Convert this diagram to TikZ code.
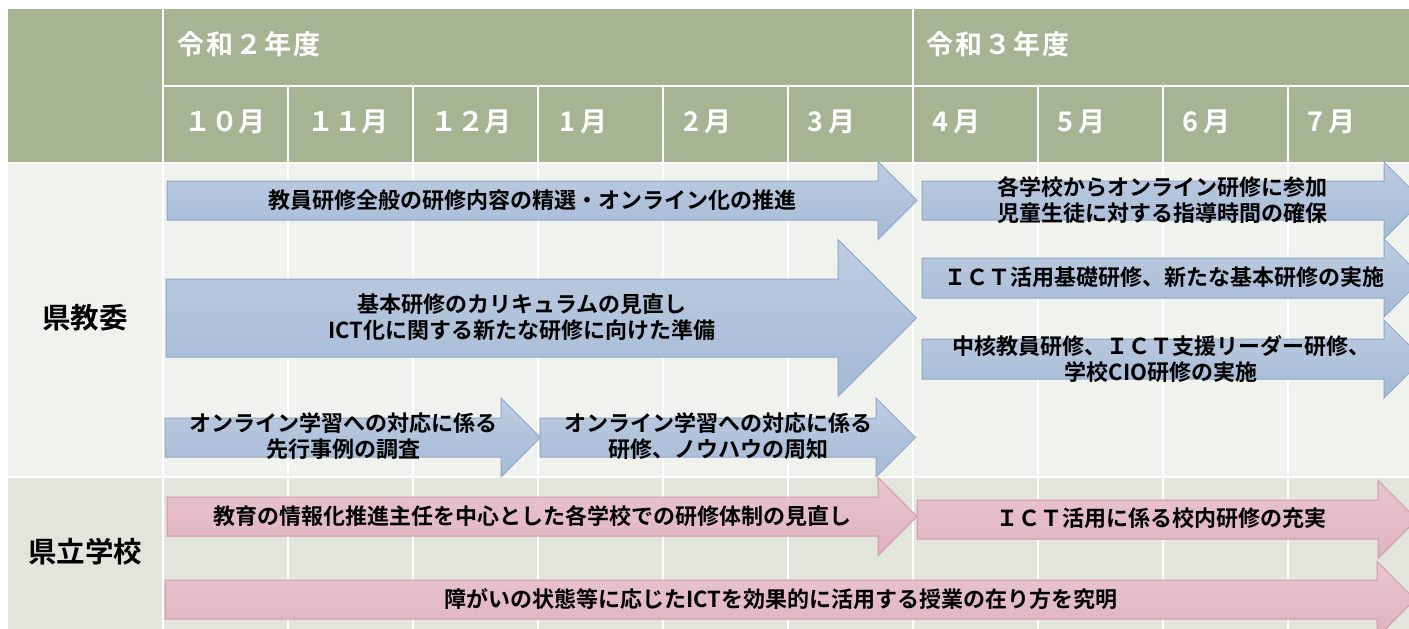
\documentclass[tikz,border=0pt]{standalone}
\usepackage{fontspec}
\setmainfont{Noto Sans CJK JP}[BoldFont={Noto Sans CJK JP Bold}]
\definecolor{hdr}{HTML}{A6B493}
\definecolor{bodyA}{HTML}{F0F2EE}
\definecolor{bodyB}{HTML}{E2E5DC}
\definecolor{bluetop}{HTML}{BDCCE1}
\definecolor{bluebot}{HTML}{A6BAD6}
\definecolor{blueedge}{HTML}{8EA7CA}
\definecolor{pinktop}{HTML}{E9C6D0}
\definecolor{pinkbot}{HTML}{DFB2BF}
\definecolor{pinkedge}{HTML}{D597AB}
\newcommand\blockarrow[6]{%
  \path[#1] (#2,#4-#5) -- (#3,#4-#5) -- (#3,#4-#6) -- (#3+#6,#4)
    -- (#3,#4+#6) -- (#3,#4+#5) -- (#2,#4+#5) -- cycle;}
\tikzset{
  bluearrow/.style={top color=bluetop, bottom color=bluebot, draw=blueedge, line width=1pt},
  pinkarrow/.style={top color=pinktop, bottom color=pinkbot, draw=pinkedge, line width=1pt},
  grid/.style={white, line width=2pt},
  txt/.style={font=\fontsize{22}{25.5}\selectfont\bfseries, align=center, inner sep=0pt, text=black},
  hdrtxt/.style={font=\fontsize{27}{30}\selectfont\bfseries, inner sep=0pt, text=white, anchor=west},
  grouptxt/.style={font=\fontsize{28.5}{32}\selectfont\bfseries, inner sep=0pt, text=black},
}
\begin{document}
\begin{tikzpicture}[x=1pt,y=-1pt]
\useasboundingbox (0,0) rectangle (1409,629);
\clip (0,0) rectangle (1409,629);
\fill[white] (0,0) rectangle (1409,629);
% backgrounds
\fill[hdr] (8,9) rectangle (1420,163);
\fill[bodyA] (8,163) rectangle (1420,477);
\fill[bodyB] (8,477) rectangle (1420,640);
% grid lines
\draw[grid] (163,9) -- (163,640);
\draw[grid] (913,9) -- (913,640);
\draw[grid] (163,86) -- (1420,86);
\draw[grid] (8,163) -- (1420,163);
\draw[grid] (8,477) -- (1420,477);
\foreach \gx in {288,413,538,663,788,1038,1163,1288}
  \draw[grid] (\gx,86) -- (\gx,640);
% header texts
\node[hdrtxt] (y2) at (177,44) {令\kern2pt 和\kern2pt ２\kern2pt 年\kern2pt 度};
\node[hdrtxt] (y3) at (926,44) {令\kern2pt 和\kern2pt ３\kern2pt 年\kern2pt 度};
\node[hdrtxt] (m10) at (184,122) {１０月};
\node[hdrtxt] (m11) at (307,122) {１１月};
\node[hdrtxt] (m12) at (430,122) {１２月};
\node[hdrtxt] (m1) at (559,122) {1\kern5pt 月};
\node[hdrtxt] (m2) at (683,122) {2\kern5pt 月};
\node[hdrtxt] (m3) at (807,122) {3\kern5pt 月};
\node[hdrtxt] (m4) at (932,122) {4\kern5pt 月};
\node[hdrtxt] (m5) at (1057,122) {5\kern5pt 月};
\node[hdrtxt] (m6) at (1182,122) {6\kern5pt 月};
\node[hdrtxt] (m7) at (1307,122) {7\kern5pt 月};
% group labels
\node[grouptxt] (g1) at (85,318) {県教委};
\node[grouptxt] (g2) at (85,552) {県立学校};
% blue arrows
\blockarrow{bluearrow}{167}{878}{200.5}{19.5}{39}
\blockarrow{bluearrow}{166}{838}{318}{39}{78.5}
\blockarrow{bluearrow}{165}{501}{437.5}{19.5}{39.5}
\blockarrow{bluearrow}{540}{876}{437.5}{19.5}{39.5}
\blockarrow{bluearrow}{922}{1384}{200.5}{19.5}{38.5}
\blockarrow{bluearrow}{922}{1384}{278}{20}{39}
\blockarrow{bluearrow}{922}{1384}{359}{20}{39}
% pink arrows
\blockarrow{pinkarrow}{167}{878}{516.5}{19.5}{39}
\blockarrow{pinkarrow}{917}{1378}{519.5}{19.5}{39}
\blockarrow{pinkarrow}{165}{1377}{599.5}{19.5}{38}
% arrow texts
\node[txt] (t1) at (532,200) {教員研修全般の研修内容の精選・オンライン化の推進};
\node[txt] (t2) at (522,317) {基本研修のカリキュラムの見直し\\ICT化に関する新たな研修に向けた準備};
\node[txt] (t3) at (343,436) {オンライン学習への対応に係る\\先行事例の調査};
\node[txt] (t4) at (718,436) {オンライン学習への対応に係る\\研修、ノウハウの周知};
\node[txt] (t5) at (1162,200) {各学校からオンライン研修に参加\\児童生徒に対する指導時間の確保};
\node[txt] (t6) at (1164,277) {ＩＣＴ活用基礎研修、新たな基本研修の実施};
\node[txt] (t7) at (1161,359) {中核教員研修、ＩＣＴ支援リーダー研修、\\学校CIO研修の実施};
\node[txt] (t8) at (532,516) {教育の情報化推進主任を中心とした各学校での研修体制の見直し};
\node[txt] (t9) at (1161,518) {ＩＣＴ活用に係る校内研修の充実};
\node[txt] (t10) at (781,599) {障がいの状態等に応じたICTを効果的に活用する授業の在り方を究明};
\end{tikzpicture}
\end{document}
